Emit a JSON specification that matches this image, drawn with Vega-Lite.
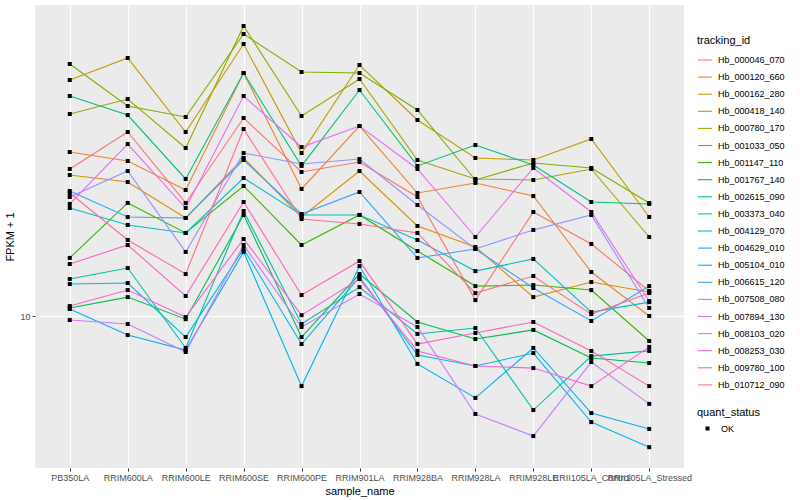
{
  "$schema": "https://vega.github.io/schema/vega-lite/v6.json",
  "width": 649,
  "height": 463,
  "autosize": {"type": "none"},
  "padding": {"left": 35, "top": 5, "right": 116, "bottom": 32},
  "background": "#FFFFFF",
  "config": {
    "font": "Liberation Sans",
    "view": {"fill": "#EBEBEB", "stroke": null},
    "axis": {"domain": false, "grid": true, "gridColor": "#FFFFFF", "gridWidth": 1.1, "tickColor": "#333333", "tickSize": 3, "tickWidth": 1, "labelColor": "#4D4D4D", "labelFontSize": 9, "labelPadding": 2, "titleFontSize": 11, "titleFontWeight": "normal", "titleColor": "#000000"},
    "legend": {"titleFontSize": 11, "titleFontWeight": "normal", "titleColor": "#000000", "labelFontSize": 9, "labelColor": "#000000", "padding": 0}
  },
  "datasets": {
    "expr": [
      {"tracking_id":"Hb_000046_070","sample_name":"PB350LA","FPKM":23.31,"quant_status":"OK"},
      {"tracking_id":"Hb_000046_070","sample_name":"RRIM600LA","FPKM":28.84,"quant_status":"OK"},
      {"tracking_id":"Hb_000046_070","sample_name":"RRIM600LE","FPKM":19.17,"quant_status":"OK"},
      {"tracking_id":"Hb_000046_070","sample_name":"RRIM600SE","FPKM":31.26,"quant_status":"OK"},
      {"tracking_id":"Hb_000046_070","sample_name":"RRIM600PE","FPKM":22.91,"quant_status":"OK"},
      {"tracking_id":"Hb_000046_070","sample_name":"RRIM901LA","FPKM":24.27,"quant_status":"OK"},
      {"tracking_id":"Hb_000046_070","sample_name":"RRIM928BA","FPKM":19.84,"quant_status":"OK"},
      {"tracking_id":"Hb_000046_070","sample_name":"RRIM928LA","FPKM":10.96,"quant_status":"OK"},
      {"tracking_id":"Hb_000046_070","sample_name":"RRIM928LE","FPKM":18.20,"quant_status":"OK"},
      {"tracking_id":"Hb_000046_070","sample_name":"RRII105LA_Control","FPKM":15.14,"quant_status":"OK"},
      {"tracking_id":"Hb_000046_070","sample_name":"RRII105LA_Stressed","FPKM":11.55,"quant_status":"OK"},
      {"tracking_id":"Hb_000120_660","sample_name":"PB350LA","FPKM":25.70,"quant_status":"OK"},
      {"tracking_id":"Hb_000120_660","sample_name":"RRIM600LA","FPKM":24.41,"quant_status":"OK"},
      {"tracking_id":"Hb_000120_660","sample_name":"RRIM600LE","FPKM":20.66,"quant_status":"OK"},
      {"tracking_id":"Hb_000120_660","sample_name":"RRIM600SE","FPKM":40.50,"quant_status":"OK"},
      {"tracking_id":"Hb_000120_660","sample_name":"RRIM600PE","FPKM":20.78,"quant_status":"OK"},
      {"tracking_id":"Hb_000120_660","sample_name":"RRIM901LA","FPKM":29.85,"quant_status":"OK"},
      {"tracking_id":"Hb_000120_660","sample_name":"RRIM928BA","FPKM":20.30,"quant_status":"OK"},
      {"tracking_id":"Hb_000120_660","sample_name":"RRIM928LA","FPKM":21.51,"quant_status":"OK"},
      {"tracking_id":"Hb_000120_660","sample_name":"RRIM928LE","FPKM":19.95,"quant_status":"OK"},
      {"tracking_id":"Hb_000120_660","sample_name":"RRII105LA_Control","FPKM":12.88,"quant_status":"OK"},
      {"tracking_id":"Hb_000120_660","sample_name":"RRII105LA_Stressed","FPKM":10.00,"quant_status":"OK"},
      {"tracking_id":"Hb_000162_280","sample_name":"PB350LA","FPKM":22.52,"quant_status":"OK"},
      {"tracking_id":"Hb_000162_280","sample_name":"RRIM600LA","FPKM":21.63,"quant_status":"OK"},
      {"tracking_id":"Hb_000162_280","sample_name":"RRIM600LE","FPKM":17.58,"quant_status":"OK"},
      {"tracking_id":"Hb_000162_280","sample_name":"RRIM600SE","FPKM":24.83,"quant_status":"OK"},
      {"tracking_id":"Hb_000162_280","sample_name":"RRIM600PE","FPKM":17.68,"quant_status":"OK"},
      {"tracking_id":"Hb_000162_280","sample_name":"RRIM901LA","FPKM":23.04,"quant_status":"OK"},
      {"tracking_id":"Hb_000162_280","sample_name":"RRIM928BA","FPKM":16.79,"quant_status":"OK"},
      {"tracking_id":"Hb_000162_280","sample_name":"RRIM928LA","FPKM":14.88,"quant_status":"OK"},
      {"tracking_id":"Hb_000162_280","sample_name":"RRIM928LE","FPKM":11.15,"quant_status":"OK"},
      {"tracking_id":"Hb_000162_280","sample_name":"RRII105LA_Control","FPKM":12.16,"quant_status":"OK"},
      {"tracking_id":"Hb_000162_280","sample_name":"RRII105LA_Stressed","FPKM":11.48,"quant_status":"OK"},
      {"tracking_id":"Hb_000418_140","sample_name":"PB350LA","FPKM":38.90,"quant_status":"OK"},
      {"tracking_id":"Hb_000418_140","sample_name":"RRIM600LA","FPKM":44.16,"quant_status":"OK"},
      {"tracking_id":"Hb_000418_140","sample_name":"RRIM600LE","FPKM":28.84,"quant_status":"OK"},
      {"tracking_id":"Hb_000418_140","sample_name":"RRIM600SE","FPKM":47.87,"quant_status":"OK"},
      {"tracking_id":"Hb_000418_140","sample_name":"RRIM600PE","FPKM":25.55,"quant_status":"OK"},
      {"tracking_id":"Hb_000418_140","sample_name":"RRIM901LA","FPKM":42.41,"quant_status":"OK"},
      {"tracking_id":"Hb_000418_140","sample_name":"RRIM928BA","FPKM":30.90,"quant_status":"OK"},
      {"tracking_id":"Hb_000418_140","sample_name":"RRIM928LA","FPKM":24.83,"quant_status":"OK"},
      {"tracking_id":"Hb_000418_140","sample_name":"RRIM928LE","FPKM":24.55,"quant_status":"OK"},
      {"tracking_id":"Hb_000418_140","sample_name":"RRII105LA_Control","FPKM":27.70,"quant_status":"OK"},
      {"tracking_id":"Hb_000418_140","sample_name":"RRII105LA_Stressed","FPKM":17.68,"quant_status":"OK"},
      {"tracking_id":"Hb_000780_170","sample_name":"PB350LA","FPKM":31.99,"quant_status":"OK"},
      {"tracking_id":"Hb_000780_170","sample_name":"RRIM600LA","FPKM":34.87,"quant_status":"OK"},
      {"tracking_id":"Hb_000780_170","sample_name":"RRIM600LE","FPKM":26.30,"quant_status":"OK"},
      {"tracking_id":"Hb_000780_170","sample_name":"RRIM600SE","FPKM":53.09,"quant_status":"OK"},
      {"tracking_id":"Hb_000780_170","sample_name":"RRIM600PE","FPKM":31.62,"quant_status":"OK"},
      {"tracking_id":"Hb_000780_170","sample_name":"RRIM901LA","FPKM":39.13,"quant_status":"OK"},
      {"tracking_id":"Hb_000780_170","sample_name":"RRIM928BA","FPKM":24.55,"quant_status":"OK"},
      {"tracking_id":"Hb_000780_170","sample_name":"RRIM928LA","FPKM":22.01,"quant_status":"OK"},
      {"tracking_id":"Hb_000780_170","sample_name":"RRIM928LE","FPKM":21.88,"quant_status":"OK"},
      {"tracking_id":"Hb_000780_170","sample_name":"RRII105LA_Control","FPKM":23.31,"quant_status":"OK"},
      {"tracking_id":"Hb_000780_170","sample_name":"RRII105LA_Stressed","FPKM":15.76,"quant_status":"OK"},
      {"tracking_id":"Hb_001033_050","sample_name":"PB350LA","FPKM":42.66,"quant_status":"OK"},
      {"tracking_id":"Hb_001033_050","sample_name":"RRIM600LA","FPKM":33.49,"quant_status":"OK"},
      {"tracking_id":"Hb_001033_050","sample_name":"RRIM600LE","FPKM":31.44,"quant_status":"OK"},
      {"tracking_id":"Hb_001033_050","sample_name":"RRIM600SE","FPKM":50.70,"quant_status":"OK"},
      {"tracking_id":"Hb_001033_050","sample_name":"RRIM600PE","FPKM":40.74,"quant_status":"OK"},
      {"tracking_id":"Hb_001033_050","sample_name":"RRIM901LA","FPKM":40.50,"quant_status":"OK"},
      {"tracking_id":"Hb_001033_050","sample_name":"RRIM928BA","FPKM":32.73,"quant_status":"OK"},
      {"tracking_id":"Hb_001033_050","sample_name":"RRIM928LA","FPKM":21.88,"quant_status":"OK"},
      {"tracking_id":"Hb_001033_050","sample_name":"RRIM928LE","FPKM":24.13,"quant_status":"OK"},
      {"tracking_id":"Hb_001033_050","sample_name":"RRII105LA_Control","FPKM":23.45,"quant_status":"OK"},
      {"tracking_id":"Hb_001033_050","sample_name":"RRII105LA_Stressed","FPKM":19.17,"quant_status":"OK"},
      {"tracking_id":"Hb_001147_110","sample_name":"PB350LA","FPKM":13.97,"quant_status":"OK"},
      {"tracking_id":"Hb_001147_110","sample_name":"RRIM600LA","FPKM":19.17,"quant_status":"OK"},
      {"tracking_id":"Hb_001147_110","sample_name":"RRIM600LE","FPKM":16.13,"quant_status":"OK"},
      {"tracking_id":"Hb_001147_110","sample_name":"RRIM600SE","FPKM":21.14,"quant_status":"OK"},
      {"tracking_id":"Hb_001147_110","sample_name":"RRIM600PE","FPKM":15.05,"quant_status":"OK"},
      {"tracking_id":"Hb_001147_110","sample_name":"RRIM901LA","FPKM":17.89,"quant_status":"OK"},
      {"tracking_id":"Hb_001147_110","sample_name":"RRIM928BA","FPKM":14.54,"quant_status":"OK"},
      {"tracking_id":"Hb_001147_110","sample_name":"RRIM928LA","FPKM":11.88,"quant_status":"OK"},
      {"tracking_id":"Hb_001147_110","sample_name":"RRIM928LE","FPKM":11.95,"quant_status":"OK"},
      {"tracking_id":"Hb_001147_110","sample_name":"RRII105LA_Control","FPKM":11.61,"quant_status":"OK"},
      {"tracking_id":"Hb_001147_110","sample_name":"RRII105LA_Stressed","FPKM":8.66,"quant_status":"OK"},
      {"tracking_id":"Hb_001767_140","sample_name":"PB350LA","FPKM":10.47,"quant_status":"OK"},
      {"tracking_id":"Hb_001767_140","sample_name":"RRIM600LA","FPKM":11.15,"quant_status":"OK"},
      {"tracking_id":"Hb_001767_140","sample_name":"RRIM600LE","FPKM":9.82,"quant_status":"OK"},
      {"tracking_id":"Hb_001767_140","sample_name":"RRIM600SE","FPKM":17.89,"quant_status":"OK"},
      {"tracking_id":"Hb_001767_140","sample_name":"RRIM600PE","FPKM":8.86,"quant_status":"OK"},
      {"tracking_id":"Hb_001767_140","sample_name":"RRIM901LA","FPKM":12.73,"quant_status":"OK"},
      {"tracking_id":"Hb_001767_140","sample_name":"RRIM928BA","FPKM":9.66,"quant_status":"OK"},
      {"tracking_id":"Hb_001767_140","sample_name":"RRIM928LA","FPKM":8.76,"quant_status":"OK"},
      {"tracking_id":"Hb_001767_140","sample_name":"RRIM928LE","FPKM":9.23,"quant_status":"OK"},
      {"tracking_id":"Hb_001767_140","sample_name":"RRII105LA_Control","FPKM":7.85,"quant_status":"OK"},
      {"tracking_id":"Hb_001767_140","sample_name":"RRII105LA_Stressed","FPKM":7.63,"quant_status":"OK"},
      {"tracking_id":"Hb_002615_090","sample_name":"PB350LA","FPKM":35.48,"quant_status":"OK"},
      {"tracking_id":"Hb_002615_090","sample_name":"RRIM600LA","FPKM":31.80,"quant_status":"OK"},
      {"tracking_id":"Hb_002615_090","sample_name":"RRIM600LE","FPKM":22.01,"quant_status":"OK"},
      {"tracking_id":"Hb_002615_090","sample_name":"RRIM600SE","FPKM":40.50,"quant_status":"OK"},
      {"tracking_id":"Hb_002615_090","sample_name":"RRIM600PE","FPKM":23.72,"quant_status":"OK"},
      {"tracking_id":"Hb_002615_090","sample_name":"RRIM901LA","FPKM":36.72,"quant_status":"OK"},
      {"tracking_id":"Hb_002615_090","sample_name":"RRIM928BA","FPKM":23.72,"quant_status":"OK"},
      {"tracking_id":"Hb_002615_090","sample_name":"RRIM928LA","FPKM":26.76,"quant_status":"OK"},
      {"tracking_id":"Hb_002615_090","sample_name":"RRIM928LE","FPKM":23.85,"quant_status":"OK"},
      {"tracking_id":"Hb_002615_090","sample_name":"RRII105LA_Control","FPKM":19.28,"quant_status":"OK"},
      {"tracking_id":"Hb_002615_090","sample_name":"RRII105LA_Stressed","FPKM":19.06,"quant_status":"OK"},
      {"tracking_id":"Hb_003373_040","sample_name":"PB350LA","FPKM":12.37,"quant_status":"OK"},
      {"tracking_id":"Hb_003373_040","sample_name":"RRIM600LA","FPKM":13.18,"quant_status":"OK"},
      {"tracking_id":"Hb_003373_040","sample_name":"RRIM600LE","FPKM":8.32,"quant_status":"OK"},
      {"tracking_id":"Hb_003373_040","sample_name":"RRIM600SE","FPKM":18.30,"quant_status":"OK"},
      {"tracking_id":"Hb_003373_040","sample_name":"RRIM600PE","FPKM":9.55,"quant_status":"OK"},
      {"tracking_id":"Hb_003373_040","sample_name":"RRIM901LA","FPKM":11.81,"quant_status":"OK"},
      {"tracking_id":"Hb_003373_040","sample_name":"RRIM928BA","FPKM":9.02,"quant_status":"OK"},
      {"tracking_id":"Hb_003373_040","sample_name":"RRIM928LA","FPKM":9.33,"quant_status":"OK"},
      {"tracking_id":"Hb_003373_040","sample_name":"RRIM928LE","FPKM":5.82,"quant_status":"OK"},
      {"tracking_id":"Hb_003373_040","sample_name":"RRII105LA_Control","FPKM":7.94,"quant_status":"OK"},
      {"tracking_id":"Hb_003373_040","sample_name":"RRII105LA_Stressed","FPKM":8.18,"quant_status":"OK"},
      {"tracking_id":"Hb_004129_070","sample_name":"PB350LA","FPKM":18.62,"quant_status":"OK"},
      {"tracking_id":"Hb_004129_070","sample_name":"RRIM600LA","FPKM":16.89,"quant_status":"OK"},
      {"tracking_id":"Hb_004129_070","sample_name":"RRIM600LE","FPKM":16.13,"quant_status":"OK"},
      {"tracking_id":"Hb_004129_070","sample_name":"RRIM600SE","FPKM":22.13,"quant_status":"OK"},
      {"tracking_id":"Hb_004129_070","sample_name":"RRIM600PE","FPKM":17.89,"quant_status":"OK"},
      {"tracking_id":"Hb_004129_070","sample_name":"RRIM901LA","FPKM":17.89,"quant_status":"OK"},
      {"tracking_id":"Hb_004129_070","sample_name":"RRIM928BA","FPKM":15.49,"quant_status":"OK"},
      {"tracking_id":"Hb_004129_070","sample_name":"RRIM928LA","FPKM":12.95,"quant_status":"OK"},
      {"tracking_id":"Hb_004129_070","sample_name":"RRIM928LE","FPKM":13.89,"quant_status":"OK"},
      {"tracking_id":"Hb_004129_070","sample_name":"RRII105LA_Control","FPKM":10.23,"quant_status":"OK"},
      {"tracking_id":"Hb_004129_070","sample_name":"RRII105LA_Stressed","FPKM":10.83,"quant_status":"OK"},
      {"tracking_id":"Hb_004629_010","sample_name":"PB350LA","FPKM":12.02,"quant_status":"OK"},
      {"tracking_id":"Hb_004629_010","sample_name":"RRIM600LA","FPKM":12.09,"quant_status":"OK"},
      {"tracking_id":"Hb_004629_010","sample_name":"RRIM600LE","FPKM":8.86,"quant_status":"OK"},
      {"tracking_id":"Hb_004629_010","sample_name":"RRIM600SE","FPKM":14.71,"quant_status":"OK"},
      {"tracking_id":"Hb_004629_010","sample_name":"RRIM600PE","FPKM":8.51,"quant_status":"OK"},
      {"tracking_id":"Hb_004629_010","sample_name":"RRIM901LA","FPKM":12.51,"quant_status":"OK"},
      {"tracking_id":"Hb_004629_010","sample_name":"RRIM928BA","FPKM":7.99,"quant_status":"OK"},
      {"tracking_id":"Hb_004629_010","sample_name":"RRIM928LA","FPKM":7.50,"quant_status":"OK"},
      {"tracking_id":"Hb_004629_010","sample_name":"RRIM928LE","FPKM":8.08,"quant_status":"OK"},
      {"tracking_id":"Hb_004629_010","sample_name":"RRII105LA_Control","FPKM":5.43,"quant_status":"OK"},
      {"tracking_id":"Hb_004629_010","sample_name":"RRII105LA_Stressed","FPKM":4.70,"quant_status":"OK"},
      {"tracking_id":"Hb_005104_010","sample_name":"PB350LA","FPKM":10.41,"quant_status":"OK"},
      {"tracking_id":"Hb_005104_010","sample_name":"RRIM600LA","FPKM":8.96,"quant_status":"OK"},
      {"tracking_id":"Hb_005104_010","sample_name":"RRIM600LE","FPKM":8.22,"quant_status":"OK"},
      {"tracking_id":"Hb_005104_010","sample_name":"RRIM600SE","FPKM":14.46,"quant_status":"OK"},
      {"tracking_id":"Hb_005104_010","sample_name":"RRIM600PE","FPKM":6.68,"quant_status":"OK"},
      {"tracking_id":"Hb_005104_010","sample_name":"RRIM901LA","FPKM":13.33,"quant_status":"OK"},
      {"tracking_id":"Hb_005104_010","sample_name":"RRIM928BA","FPKM":7.59,"quant_status":"OK"},
      {"tracking_id":"Hb_005104_010","sample_name":"RRIM928LA","FPKM":6.24,"quant_status":"OK"},
      {"tracking_id":"Hb_005104_010","sample_name":"RRIM928LE","FPKM":8.32,"quant_status":"OK"},
      {"tracking_id":"Hb_005104_010","sample_name":"RRII105LA_Control","FPKM":5.72,"quant_status":"OK"},
      {"tracking_id":"Hb_005104_010","sample_name":"RRII105LA_Stressed","FPKM":5.22,"quant_status":"OK"},
      {"tracking_id":"Hb_006615_120","sample_name":"PB350LA","FPKM":20.54,"quant_status":"OK"},
      {"tracking_id":"Hb_006615_120","sample_name":"RRIM600LA","FPKM":17.68,"quant_status":"OK"},
      {"tracking_id":"Hb_006615_120","sample_name":"RRIM600LE","FPKM":17.58,"quant_status":"OK"},
      {"tracking_id":"Hb_006615_120","sample_name":"RRIM600SE","FPKM":24.55,"quant_status":"OK"},
      {"tracking_id":"Hb_006615_120","sample_name":"RRIM600PE","FPKM":17.99,"quant_status":"OK"},
      {"tracking_id":"Hb_006615_120","sample_name":"RRIM901LA","FPKM":20.42,"quant_status":"OK"},
      {"tracking_id":"Hb_006615_120","sample_name":"RRIM928BA","FPKM":13.97,"quant_status":"OK"},
      {"tracking_id":"Hb_006615_120","sample_name":"RRIM928LA","FPKM":14.71,"quant_status":"OK"},
      {"tracking_id":"Hb_006615_120","sample_name":"RRIM928LE","FPKM":11.75,"quant_status":"OK"},
      {"tracking_id":"Hb_006615_120","sample_name":"RRII105LA_Control","FPKM":9.72,"quant_status":"OK"},
      {"tracking_id":"Hb_006615_120","sample_name":"RRII105LA_Stressed","FPKM":11.88,"quant_status":"OK"},
      {"tracking_id":"Hb_007508_080","sample_name":"PB350LA","FPKM":19.84,"quant_status":"OK"},
      {"tracking_id":"Hb_007508_080","sample_name":"RRIM600LA","FPKM":23.04,"quant_status":"OK"},
      {"tracking_id":"Hb_007508_080","sample_name":"RRIM600LE","FPKM":14.46,"quant_status":"OK"},
      {"tracking_id":"Hb_007508_080","sample_name":"RRIM600SE","FPKM":25.55,"quant_status":"OK"},
      {"tracking_id":"Hb_007508_080","sample_name":"RRIM600PE","FPKM":23.99,"quant_status":"OK"},
      {"tracking_id":"Hb_007508_080","sample_name":"RRIM901LA","FPKM":24.69,"quant_status":"OK"},
      {"tracking_id":"Hb_007508_080","sample_name":"RRIM928BA","FPKM":18.95,"quant_status":"OK"},
      {"tracking_id":"Hb_007508_080","sample_name":"RRIM928LA","FPKM":14.71,"quant_status":"OK"},
      {"tracking_id":"Hb_007508_080","sample_name":"RRIM928LE","FPKM":16.41,"quant_status":"OK"},
      {"tracking_id":"Hb_007508_080","sample_name":"RRII105LA_Control","FPKM":17.89,"quant_status":"OK"},
      {"tracking_id":"Hb_007508_080","sample_name":"RRII105LA_Stressed","FPKM":10.47,"quant_status":"OK"},
      {"tracking_id":"Hb_007894_130","sample_name":"PB350LA","FPKM":9.77,"quant_status":"OK"},
      {"tracking_id":"Hb_007894_130","sample_name":"RRIM600LA","FPKM":9.55,"quant_status":"OK"},
      {"tracking_id":"Hb_007894_130","sample_name":"RRIM600LE","FPKM":8.13,"quant_status":"OK"},
      {"tracking_id":"Hb_007894_130","sample_name":"RRIM600SE","FPKM":15.05,"quant_status":"OK"},
      {"tracking_id":"Hb_007894_130","sample_name":"RRIM600PE","FPKM":9.39,"quant_status":"OK"},
      {"tracking_id":"Hb_007894_130","sample_name":"RRIM901LA","FPKM":11.35,"quant_status":"OK"},
      {"tracking_id":"Hb_007894_130","sample_name":"RRIM928BA","FPKM":9.39,"quant_status":"OK"},
      {"tracking_id":"Hb_007894_130","sample_name":"RRIM928LA","FPKM":5.69,"quant_status":"OK"},
      {"tracking_id":"Hb_007894_130","sample_name":"RRIM928LE","FPKM":5.01,"quant_status":"OK"},
      {"tracking_id":"Hb_007894_130","sample_name":"RRII105LA_Control","FPKM":7.67,"quant_status":"OK"},
      {"tracking_id":"Hb_007894_130","sample_name":"RRII105LA_Stressed","FPKM":6.03,"quant_status":"OK"},
      {"tracking_id":"Hb_008103_020","sample_name":"PB350LA","FPKM":19.06,"quant_status":"OK"},
      {"tracking_id":"Hb_008103_020","sample_name":"RRIM600LA","FPKM":26.91,"quant_status":"OK"},
      {"tracking_id":"Hb_008103_020","sample_name":"RRIM600LE","FPKM":18.62,"quant_status":"OK"},
      {"tracking_id":"Hb_008103_020","sample_name":"RRIM600SE","FPKM":35.48,"quant_status":"OK"},
      {"tracking_id":"Hb_008103_020","sample_name":"RRIM600PE","FPKM":26.45,"quant_status":"OK"},
      {"tracking_id":"Hb_008103_020","sample_name":"RRIM901LA","FPKM":29.85,"quant_status":"OK"},
      {"tracking_id":"Hb_008103_020","sample_name":"RRIM928BA","FPKM":23.31,"quant_status":"OK"},
      {"tracking_id":"Hb_008103_020","sample_name":"RRIM928LA","FPKM":15.76,"quant_status":"OK"},
      {"tracking_id":"Hb_008103_020","sample_name":"RRIM928LE","FPKM":23.45,"quant_status":"OK"},
      {"tracking_id":"Hb_008103_020","sample_name":"RRII105LA_Control","FPKM":18.20,"quant_status":"OK"},
      {"tracking_id":"Hb_008103_020","sample_name":"RRII105LA_Stressed","FPKM":10.90,"quant_status":"OK"},
      {"tracking_id":"Hb_008253_030","sample_name":"PB350LA","FPKM":10.59,"quant_status":"OK"},
      {"tracking_id":"Hb_008253_030","sample_name":"RRIM600LA","FPKM":11.61,"quant_status":"OK"},
      {"tracking_id":"Hb_008253_030","sample_name":"RRIM600LE","FPKM":9.94,"quant_status":"OK"},
      {"tracking_id":"Hb_008253_030","sample_name":"RRIM600SE","FPKM":15.58,"quant_status":"OK"},
      {"tracking_id":"Hb_008253_030","sample_name":"RRIM600PE","FPKM":10.05,"quant_status":"OK"},
      {"tracking_id":"Hb_008253_030","sample_name":"RRIM901LA","FPKM":12.37,"quant_status":"OK"},
      {"tracking_id":"Hb_008253_030","sample_name":"RRIM928BA","FPKM":8.18,"quant_status":"OK"},
      {"tracking_id":"Hb_008253_030","sample_name":"RRIM928LA","FPKM":7.50,"quant_status":"OK"},
      {"tracking_id":"Hb_008253_030","sample_name":"RRIM928LE","FPKM":7.41,"quant_status":"OK"},
      {"tracking_id":"Hb_008253_030","sample_name":"RRII105LA_Control","FPKM":6.68,"quant_status":"OK"},
      {"tracking_id":"Hb_008253_030","sample_name":"RRII105LA_Stressed","FPKM":8.37,"quant_status":"OK"},
      {"tracking_id":"Hb_009780_100","sample_name":"PB350LA","FPKM":13.49,"quant_status":"OK"},
      {"tracking_id":"Hb_009780_100","sample_name":"RRIM600LA","FPKM":15.05,"quant_status":"OK"},
      {"tracking_id":"Hb_009780_100","sample_name":"RRIM600LE","FPKM":11.22,"quant_status":"OK"},
      {"tracking_id":"Hb_009780_100","sample_name":"RRIM600SE","FPKM":19.28,"quant_status":"OK"},
      {"tracking_id":"Hb_009780_100","sample_name":"RRIM600PE","FPKM":11.28,"quant_status":"OK"},
      {"tracking_id":"Hb_009780_100","sample_name":"RRIM901LA","FPKM":13.72,"quant_status":"OK"},
      {"tracking_id":"Hb_009780_100","sample_name":"RRIM928BA","FPKM":8.51,"quant_status":"OK"},
      {"tracking_id":"Hb_009780_100","sample_name":"RRIM928LA","FPKM":9.07,"quant_status":"OK"},
      {"tracking_id":"Hb_009780_100","sample_name":"RRIM928LE","FPKM":9.66,"quant_status":"OK"},
      {"tracking_id":"Hb_009780_100","sample_name":"RRII105LA_Control","FPKM":8.18,"quant_status":"OK"},
      {"tracking_id":"Hb_009780_100","sample_name":"RRII105LA_Stressed","FPKM":6.68,"quant_status":"OK"},
      {"tracking_id":"Hb_010712_090","sample_name":"PB350LA","FPKM":20.30,"quant_status":"OK"},
      {"tracking_id":"Hb_010712_090","sample_name":"RRIM600LA","FPKM":15.49,"quant_status":"OK"},
      {"tracking_id":"Hb_010712_090","sample_name":"RRIM600LE","FPKM":12.73,"quant_status":"OK"},
      {"tracking_id":"Hb_010712_090","sample_name":"RRIM600SE","FPKM":29.34,"quant_status":"OK"},
      {"tracking_id":"Hb_010712_090","sample_name":"RRIM600PE","FPKM":17.48,"quant_status":"OK"},
      {"tracking_id":"Hb_010712_090","sample_name":"RRIM901LA","FPKM":16.98,"quant_status":"OK"},
      {"tracking_id":"Hb_010712_090","sample_name":"RRIM928BA","FPKM":16.13,"quant_status":"OK"},
      {"tracking_id":"Hb_010712_090","sample_name":"RRIM928LA","FPKM":11.41,"quant_status":"OK"},
      {"tracking_id":"Hb_010712_090","sample_name":"RRIM928LE","FPKM":12.59,"quant_status":"OK"},
      {"tracking_id":"Hb_010712_090","sample_name":"RRII105LA_Control","FPKM":10.11,"quant_status":"OK"},
      {"tracking_id":"Hb_010712_090","sample_name":"RRII105LA_Stressed","FPKM":11.41,"quant_status":"OK"}
    ]
  },
  "data": {"name": "expr"},
  "encoding": {
    "x": {
      "field": "sample_name",
      "type": "nominal",
      "sort": ["PB350LA","RRIM600LA","RRIM600LE","RRIM600SE","RRIM600PE","RRIM901LA","RRIM928BA","RRIM928LA","RRIM928LE","RRII105LA_Control","RRII105LA_Stressed"],
      "scale": {"type": "point", "padding": 0.6},
      "axis": {"title": "sample_name", "labelAngle": 0, "labelOverlap": false, "labelBound": false, "labelFlush": false, "titlePadding": 3}
    },
    "y": {
      "field": "FPKM",
      "type": "quantitative",
      "scale": {"type": "log", "domain": [4.169, 59.91], "nice": false, "zero": false},
      "axis": {"title": "FPKM + 1", "values": [10], "format": "d", "titlePadding": 4}
    },
    "order": {"value": null}
  },
  "layer": [
    {
      "mark": {"type": "line", "strokeWidth": 1.1},
      "encoding": {
        "color": {
          "field": "tracking_id",
          "type": "nominal",
          "scale": {"range": ["#F8766D","#EA8331","#D89000","#C09B00","#A3A500","#7CAE00","#39B600","#00BB4E","#00BF7D","#00C1A3","#00BFC4","#00BAE0","#00B0F6","#35A2FF","#9590FF","#C77CFF","#E76BF3","#FA62DB","#FF62BC","#FF6C91"]},
          "legend": {"title": "tracking_id", "orient": "none", "legendX": 662, "legendY": 30, "symbolType": "stroke", "symbolSize": 200, "symbolStrokeWidth": 1.1, "rowPadding": 4.1, "labelOffset": 5, "titlePadding": 6}
        }
      }
    },
    {
      "mark": {"type": "point", "filled": true, "color": "#000000", "opacity": 1, "size": 16},
      "encoding": {
        "shape": {
          "field": "quant_status",
          "type": "nominal",
          "scale": {"range": ["square"]},
          "legend": {"title": "quant_status", "orient": "none", "legendX": 662, "legendY": 402, "symbolSize": 16, "symbolFillColor": "#000000", "symbolStrokeColor": "#000000", "symbolOffset": 6, "labelOffset": 9, "titlePadding": 6}
        }
      }
    }
  ]
}
